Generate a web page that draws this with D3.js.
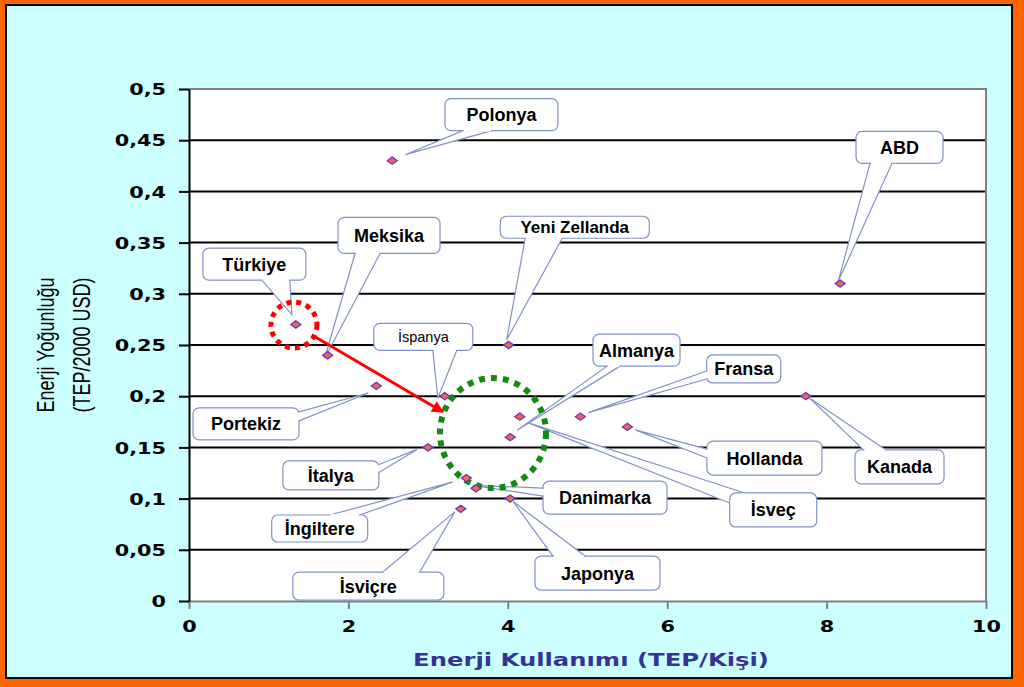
<!DOCTYPE html>
<html><head><meta charset="utf-8">
<script src="https://cdn.jsdelivr.net/npm/d3@7"></script>
<style>html,body{margin:0;padding:0;background:#fff;}svg{display:block;}</style>
</head><body>
<svg id="chart" width="1024" height="687"></svg>
<script>
// ---- data ----
const countries = ["Polonya","ABD","Türkiye","Meksika","Yeni Zellanda","İspanya","Portekiz","Almanya","Fransa","Hollanda","Kanada","İsveç","İtalya","İngiltere","Danimarka","Japonya","İsviçre"];
const energyUse = [2.55, 8.17, 1.34, 1.74, 4.01, 3.21, 2.35, 4.03, 4.91, 5.50, 7.74, 4.15, 3.00, 3.48, 3.60, 4.03, 3.41];
const intensity = [0.43, 0.31, 0.27, 0.24, 0.25, 0.20, 0.21, 0.16, 0.18, 0.17, 0.20, 0.18, 0.15, 0.12, 0.11, 0.10, 0.09];
const xTicks = [0, 2, 4, 6, 8, 10];
const yTicks = [0, 0.05, 0.1, 0.15, 0.2, 0.25, 0.3, 0.35, 0.4, 0.45, 0.5];
const xTitle = "Enerji Kullanımı (TEP/Kişi)";
const yTitle = ["Enerji Yoğunluğu", "(TEP/2000 USD)"];

// ---- callout layout (annotation geometry) ----
// box centre in data units, box size px, wedge base offsets from box centre px, tip offset from point px
const callouts = [
  {cx:3.92, cy:0.475, w:113, h:32, b:[[-38.5,16],[-9.5,16]], t:[13,-6]},
  {cx:8.915,cy:0.443, w:87,  h:32, b:[[-29.5,16],[-7.5,16]], t:[-2,-2]},
  {cx:0.82, cy:0.329, w:103, h:32, b:[[7.5,16],[35.5,16]],   t:[-4,-10]},
  {cx:2.51, cy:0.357, w:102, h:36, b:[[-34,18],[-9,18]],     t:[-3,3]},
  {cx:4.84, cy:0.365, w:149, h:22, b:[[-49.5,11],[-12.5,11]],t:[-2,-5]},
  {cx:2.94, cy:0.258, w:99,  h:27, b:[[9.5,13.5],[33.5,13.5]],t:[-7,2], light:true},
  {cx:0.715,cy:0.173, w:106, h:32, b:[[53,-12],[53,-3]],     t:[-8,7]},
  {cx:5.615,cy:0.245, w:87,  h:32, b:[[-29.5,16],[-16.5,16]],t:[7,-7]},
  {cx:6.96, cy:0.2266,w:74,  h:28, b:[[-37,2],[-37,10]],     t:[8,-4]},
  {cx:7.22, cy:0.1396,w:115, h:34, b:[[-57.5,-9],[-57.5,0]], t:[8,3]},
  {cx:8.915,cy:0.131, w:89,  h:34, b:[[-36,-17],[-14,-17]],  t:[4,2]},
  {cx:7.33, cy:0.0889,w:87,  h:34, b:[[-43.5,-7],[-28.5,-17]],t:[8,6]},
  {cx:1.78, cy:0.1226,w:96,  h:29, b:[[48,-11],[48,-3]],     t:[-11,2]},
  {cx:1.64, cy:0.0708,w:96,  h:27, b:[[10,-13.5],[40,-13.5]],t:[-14,4]},
  {cx:5.22, cy:0.101, w:124, h:33, b:[[-62,-9.5],[-62,-1.5]],t:[-3,-3]},
  {cx:5.125,cy:0.0273,w:125, h:34, b:[[-44.5,-17],[-12.5,-17]],t:[3,3]},
  {cx:2.25, cy:0.0146,w:151, h:28, b:[[14.5,-14],[51.5,-14]],t:[-6,3]}
];

const svg = d3.select("#chart");
const W = 1024, H = 687;

// frame
svg.append("rect").attr("width", W).attr("height", H).attr("fill", "#ff6600");
svg.append("rect").attr("x", 6).attr("y", 5).attr("width", 1006).attr("height", 673)
  .attr("fill", "#ccffff").attr("stroke", "#000").attr("stroke-width", 2);

const x = d3.scaleLinear().domain([0, 10]).range([189, 986]);
const y = d3.scaleLinear().domain([0, 0.5]).range([601, 89]);

// plot area
svg.append("rect").attr("x", x(0)).attr("y", y(0.5)).attr("width", x(10) - x(0)).attr("height", y(0) - y(0.5))
  .attr("fill", "#fff");

// gridlines
svg.append("g").selectAll("line").data(yTicks.filter(d => d > 0 && d < 0.5)).join("line")
  .attr("x1", x(0)).attr("x2", x(10)).attr("y1", d => y(d)).attr("y2", d => y(d))
  .attr("stroke", "#000").attr("stroke-width", 2);

// plot border (top/right grey)
svg.append("path").attr("d", `M${x(0)},${y(0.5)}H${x(10)}V${y(0)}`)
  .attr("fill", "none").attr("stroke", "#808080").attr("stroke-width", 2);

const fmt = d => d === 0 ? "0" : String(+d.toFixed(2)).replace(".", ",");
const SX = 1.3;

// x axis
const gx = svg.append("g").attr("transform", `translate(0,${y(0)})`)
  .call(d3.axisBottom(x).tickValues(xTicks).tickSize(8).tickSizeOuter(0).tickFormat(d => d));
gx.select(".domain").attr("stroke", "#808080").attr("stroke-width", 2);
gx.selectAll(".tick line").attr("stroke", "#808080").attr("stroke-width", 2);
gx.selectAll(".tick text").attr("y", 20).attr("dy", "0.71em").attr("x", 0)
  .attr("transform", `scale(${SX},1)`)
  .attr("font-family", "DejaVu Sans").attr("font-weight", "bold").attr("font-size", 16).attr("fill", "#000");

// y axis
const gy = svg.append("g").attr("transform", `translate(${x(0)},0)`)
  .call(d3.axisLeft(y).tickValues(yTicks).tickSize(10).tickSizeOuter(0).tickFormat(fmt));
gy.select(".domain").attr("stroke", "#000").attr("stroke-width", 2);
gy.selectAll(".tick line").attr("stroke", "#000").attr("stroke-width", 2);
gy.selectAll(".tick text").attr("x", 0).attr("dy", "0.36em")
  .attr("transform", `translate(-23,0) scale(${SX},1)`)
  .attr("font-family", "DejaVu Sans").attr("font-weight", "bold").attr("font-size", 16).attr("fill", "#000");
gy.attr("font-family", null);

// axis titles
svg.append("text").attr("transform", `translate(591,666) scale(1.35,1)`)
  .attr("text-anchor", "middle").attr("font-family", "DejaVu Sans").attr("font-weight", "bold")
  .attr("font-size", 18).attr("fill", "#333399").text(xTitle);

[54, 90].forEach((bx, i) => {
  svg.append("text").attr("transform", `translate(${bx},345) scale(1.35,1) rotate(-90)`)
    .attr("text-anchor", "middle").attr("font-family", "Liberation Sans, Arial").attr("font-size", 18)
    .attr("fill", "#000").text(yTitle[i]);
});

// callouts
const stroke = "#8093c6";
const gc = svg.append("g");
countries.forEach((name, i) => {
  const c = callouts[i];
  const px = x(energyUse[i]), py = y(intensity[i]);
  const bx = x(c.cx), by = y(c.cy);
  const b1 = [bx + c.b[0][0], by + c.b[0][1]];
  const b2 = [bx + c.b[1][0], by + c.b[1][1]];
  const tip = [px + c.t[0], py + c.t[1]];
  const g = gc.append("g");
  g.append("path").attr("d", `M${b1}L${tip}L${b2}`).attr("fill", "#fff")
    .attr("stroke", stroke).attr("stroke-width", 1.2);
  g.append("rect").attr("x", bx - c.w / 2).attr("y", by - c.h / 2).attr("width", c.w).attr("height", c.h)
    .attr("rx", 6).attr("fill", "#fff").attr("stroke", stroke).attr("stroke-width", 1.2);
  // cover box border under wedge base
  const dx = b2[0] - b1[0], dy = b2[1] - b1[1], L = Math.hypot(dx, dy);
  const ux = dx / L, uy = dy / L;
  // inward normal: towards box centre
  let nx = -uy, ny = ux;
  const mx = (b1[0] + b2[0]) / 2, my = (b1[1] + b2[1]) / 2;
  if ((bx - mx) * nx + (by - my) * ny < 0) { nx = -nx; ny = -ny; }
  const s = 0.9;
  const q1 = [b1[0] + ux * s - nx * 1, b1[1] + uy * s - ny * 1];
  const q2 = [b2[0] - ux * s - nx * 1, b2[1] - uy * s - ny * 1];
  const q3 = [q2[0] + nx * 2.5, q2[1] + ny * 2.5];
  const q4 = [q1[0] + nx * 2.5, q1[1] + ny * 2.5];
  g.append("path").attr("d", `M${q1}L${q2}L${q3}L${q4}Z`).attr("fill", "#fff");
  g.append("text").attr("x", bx).attr("y", by).attr("dy", "0.36em").attr("text-anchor", "middle")
    .attr("font-family", "Liberation Sans, Arial").attr("font-weight", c.light ? "normal" : "bold")
    .attr("font-size", c.light ? 14.5 : (c.h < 25 ? 17 : 18)).attr("fill", "#000").text(name);
});

// circles
svg.append("ellipse").attr("cx", x(1.317)).attr("cy", y(0.2695)).attr("rx", 23).attr("ry", 23)
  .attr("fill", "none").attr("stroke", "#ff0000").attr("stroke-width", 5).attr("stroke-dasharray", "5 5");
svg.append("ellipse").attr("cx", x(3.814)).attr("cy", y(0.164)).attr("rx", 53).attr("ry", 55)
  .attr("fill", "none").attr("stroke", "#138a13").attr("stroke-width", 6).attr("stroke-dasharray", "6 6");

// arrow
svg.append("defs").append("marker").attr("id", "ah").attr("viewBox", "0 0 10 10")
  .attr("refX", 9).attr("refY", 5).attr("markerWidth", 4.5).attr("markerHeight", 4)
  .attr("markerUnits", "strokeWidth").attr("orient", "auto")
  .append("path").attr("d", "M0,0L10,5L0,10Z").attr("fill", "#ff0000");
svg.append("line").attr("x1", x(1.543)).attr("y1", y(0.2598)).attr("x2", x(3.187)).attr("y2", y(0.1846))
  .attr("stroke", "#ff0000").attr("stroke-width", 3).attr("marker-end", "url(#ah)");

// points
svg.append("g").selectAll("path").data(countries.map((c, i) => [energyUse[i], intensity[i]])).join("path")
  .attr("d", "M-5,0L0,-3.6L5,0L0,3.6Z")
  .attr("transform", d => `translate(${x(d[0])},${y(d[1])})`)
  .attr("fill", "#f26d3d").attr("stroke", "#6633cc").attr("stroke-width", 1.3);
</script>
</body></html>
